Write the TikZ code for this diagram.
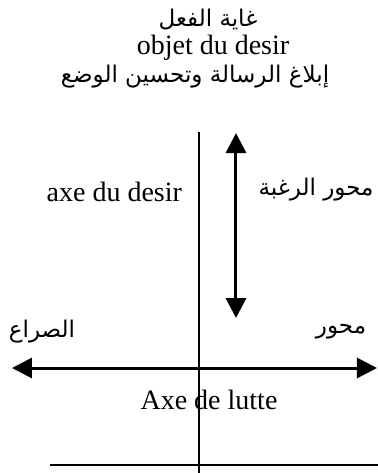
\documentclass[tikz,border=0pt]{standalone}
\usepackage{fontspec}
\setmainfont{Liberation Serif}
\newfontfamily\arabicfont[Script=Arabic]{DejaVu Sans}
\TeXXeTstate=1
\usetikzlibrary{arrows.meta}

\begin{document}
\begin{tikzpicture}[x=0.5pt,y=-0.5pt,font=\fontsize{14}{16}\selectfont,
  ar/.style={font=\arabicfont\fontsize{11.5}{14}\selectfont},
  axis/.style={line width=1.5pt,{Triangle[width=10pt,length=10pt]}-{Triangle[width=10pt,length=10pt]}}]
\useasboundingbox (0,0) rectangle (378,473);
\node[ar] (goal) at (208,20) {\beginR غاية الفعل\endR};
\node (objet) at (213,48) {objet du desir};
\node[ar] (message) at (195,77) {\beginR إبلاغ الرسالة وتحسين الوضع\endR};
\node[anchor=east] (desirfr) at (189,192) {axe du desir};
\node[ar] (desirar) at (316,190) {\beginR محور الرغبة\endR};
\node[ar] (conflict) at (42,332) {\beginR الصراع\endR};
\node[ar] (axis) at (341,332) {\beginR محور\endR};
\node (lutte) at (209,400) {Axe de lutte};
% axes
\coordinate (vtop) at (199,132);
\coordinate (vbot) at (199,473);
\draw[line width=1pt] (vtop)--(vbot);
\coordinate (dtop) at (236,133);
\coordinate (dbot) at (236,318);
\draw[axis] (dtop)--(dbot);
\coordinate (hleft) at (12,368);
\coordinate (hright) at (377,368);
\draw[axis] (hleft)--(hright);
\coordinate (bleft) at (50,465);
\coordinate (bright) at (378,465);
\draw[line width=1pt] (bleft)--(bright);
\end{tikzpicture}
\end{document}
